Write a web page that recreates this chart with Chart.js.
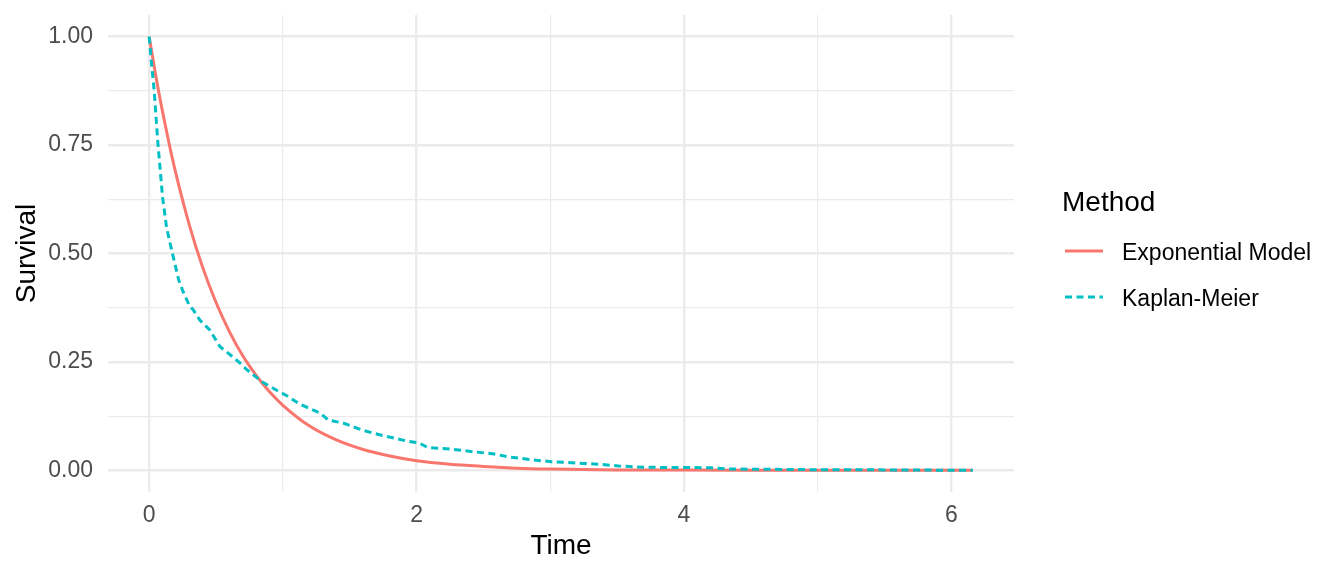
<!DOCTYPE html>
<html>
<head>
<meta charset="utf-8">
<script src="https://cdn.jsdelivr.net/npm/chart.js@4/dist/chart.umd.min.js"></script>
<style>
  html, body { margin: 0; padding: 0; background: #fff; }
  #wrap { position: relative; width: 1344px; height: 576px; }
  #legend { position: absolute; left: 0; top: 0; pointer-events: none; font-family: "Liberation Sans", Arial, sans-serif; }
</style>
</head>
<body>
<div id="wrap">
  <canvas id="survChart" width="1344" height="576"></canvas>
  <svg id="legend" width="1344" height="576">
    <text x="1062" y="211" font-size="28" fill="#000">Method</text>
    <line x1="1065" y1="251" x2="1103" y2="251" stroke="#F8766D" stroke-width="3"/>
    <text x="1122" y="260" font-size="23" fill="#000">Exponential Model</text>
    <line x1="1065" y1="297" x2="1103" y2="297" stroke="#00BFC4" stroke-width="3" stroke-dasharray="7 4.5"/>
    <text x="1122" y="306" font-size="23" fill="#000">Kaplan-Meier</text>
  </svg>
</div>
<script>
// exponential model curve
const expTime = [0, 0.05, 0.1, 0.15, 0.2, 0.3, 0.4, 0.5, 0.6, 0.7, 0.8, 0.9, 1.0, 1.2, 1.4, 1.6, 1.8, 2.0, 2.25, 2.5, 2.75, 3.0, 3.5, 4.0, 4.5, 5.0, 5.5, 6.16];
const expSurv = [1.000, 0.909, 0.827, 0.752, 0.684, 0.566, 0.468, 0.387, 0.320, 0.264, 0.219, 0.181, 0.150, 0.102, 0.070, 0.048, 0.033, 0.022, 0.014, 0.009, 0.005, 0.003, 0.001, 0.0005, 0.0002, 0.0001, 0.00003, 0.0];

// Kaplan-Meier estimate
const kmTime = [0, 0.02, 0.037, 0.065, 0.10, 0.13, 0.17, 0.22, 0.25, 0.30, 0.33, 0.38, 0.455, 0.53, 0.60, 0.68, 0.73, 0.80, 0.85, 0.98, 1.03, 1.13, 1.28, 1.34, 1.45, 1.60, 1.75, 1.92, 2.02, 2.08, 2.25, 2.42, 2.57, 2.69, 2.87, 3.01, 3.24, 3.37, 3.51, 3.69, 4.20, 4.34, 4.96, 5.5, 6.16];
const kmSurv = [1.00, 0.93, 0.877, 0.755, 0.63, 0.56, 0.505, 0.44, 0.415, 0.38, 0.37, 0.346, 0.323, 0.285, 0.268, 0.247, 0.232, 0.215, 0.203, 0.18, 0.172, 0.152, 0.132, 0.116, 0.109, 0.092, 0.080, 0.068, 0.063, 0.053, 0.049, 0.043, 0.038, 0.031, 0.024, 0.020, 0.016, 0.014, 0.010, 0.007, 0.006, 0.003, 0.0015, 0.001, 0.000];

const xTicks = [0, 1, 2, 3, 4, 5, 6];
const xLabels = ['0', '', '2', '', '4', '', '6'];
const yTicks = [0, 0.125, 0.25, 0.375, 0.5, 0.625, 0.75, 0.875, 1];
const yLabels = ['0.00', '', '0.25', '', '0.50', '', '0.75', '', '1.00'];

const font = 'Liberation Sans';
const gridColor = '#EBEBEB';

function toPoints(xs, ys) {
    return xs.map((x, i) => ({ x: x, y: ys[i] }));
}

const ctx = document.getElementById('survChart').getContext('2d');
const survChart = new Chart(ctx, {
    type: 'line',
    data: {
        datasets: [{
            label: 'Exponential Model',
            data: toPoints(expTime, expSurv),
            borderColor: '#F8766D',
            borderWidth: 3,
            cubicInterpolationMode: 'monotone',
            pointRadius: 0,
            fill: false,
            order: 1
        }, {
            label: 'Kaplan-Meier',
            data: toPoints(kmTime, kmSurv),
            borderColor: '#00BFC4',
            borderWidth: 3,
            borderDash: [7, 4.5],
            borderCapStyle: 'butt',
            tension: 0,
            pointRadius: 0,
            fill: false,
            order: 0
        }]
    },
    options: {
        responsive: false,
        animation: false,
        devicePixelRatio: 1,
        layout: { padding: { top: 15, right: 330, left: 0, bottom: 0 } },
        plugins: {
            legend: { display: false },
            tooltip: { enabled: false }
        },
        scales: {
            x: {
                type: 'linear',
                min: -0.308,
                max: 6.468,
                afterBuildTicks: (scale) => { scale.ticks = xTicks.map(v => ({ value: v })); },
                afterFit: (scale) => {
                    scale.height = 84;
                    scale.paddingLeft = 0;
                    scale.paddingRight = 0;
                },
                border: { display: false },
                grid: {
                    color: gridColor,
                    drawTicks: false,
                    lineWidth: (c) => (c.tick && c.tick.value % 2 === 0) ? 2.4 : 1.2
                },
                ticks: {
                    autoSkip: false,
                    maxRotation: 0,
                    padding: 10,
                    color: '#4D4D4D',
                    font: { family: font, size: 23 },
                    callback: (v) => xLabels[xTicks.indexOf(v)]
                },
                title: {
                    display: true,
                    text: 'Time',
                    color: '#000',
                    font: { family: font, size: 28 },
                    padding: { top: 0, bottom: 13 }
                }
            },
            y: {
                type: 'linear',
                min: -0.05,
                max: 1.05,
                afterBuildTicks: (scale) => { scale.ticks = yTicks.map(v => ({ value: v })); },
                afterFit: (scale) => {
                    scale.width = 108;
                    scale.paddingTop = 0;
                    scale.paddingBottom = 0;
                },
                border: { display: false },
                grid: {
                    color: gridColor,
                    drawTicks: false,
                    lineWidth: (c) => (c.tick && (c.tick.value * 4) % 1 === 0) ? 2.4 : 1.2
                },
                ticks: {
                    autoSkip: false,
                    padding: 15,
                    color: '#4D4D4D',
                    font: { family: font, size: 23 },
                    callback: (v) => yLabels[yTicks.indexOf(v)]
                },
                title: {
                    display: true,
                    text: 'Survival',
                    color: '#000',
                    font: { family: font, size: 28 },
                    padding: { top: 10, bottom: 0 }
                }
            }
        }
    }
});
</script>
</body>
</html>
